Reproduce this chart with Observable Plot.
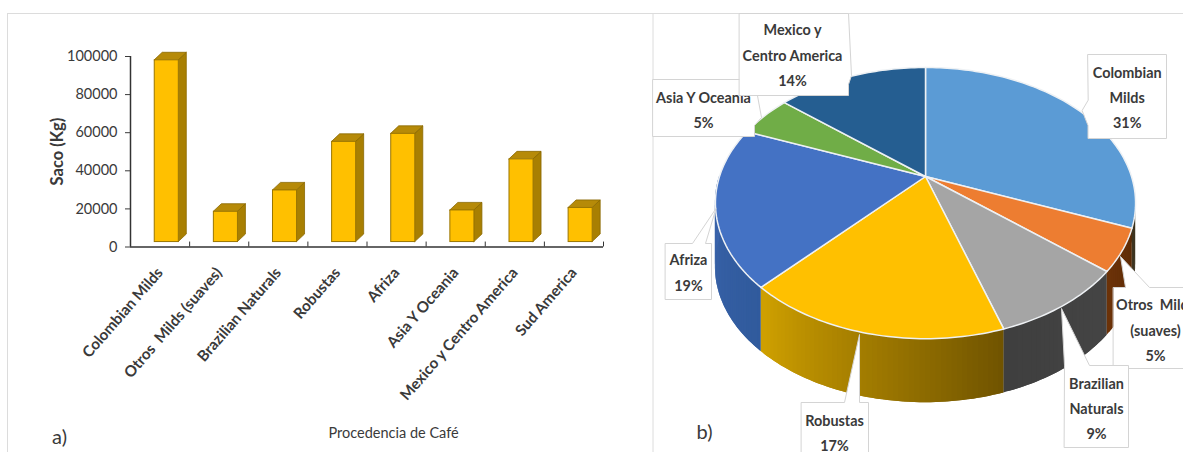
<!DOCTYPE html>
<html lang="es">
<head>
<meta charset="utf-8">
<script src="https://cdn.jsdelivr.net/npm/d3@7"></script>
<script src="https://cdn.jsdelivr.net/npm/@observablehq/plot@0.6"></script>
<style>
  html, body { margin: 0; padding: 0; background: #fff; overflow: hidden; }
  #page { position: relative; width: 1183px; height: 452px; overflow: hidden; }
  #frame { position: absolute; left: 6.5px; top: 12.5px; right: -2px; bottom: -2px;
           border-top: 1px solid #dcdcdc; border-left: 1px solid #dcdcdc; }
  #bars, #pie { position: absolute; top: 0; }
  #bars { left: 0; }
  #pie { left: 640px; }
  svg { background: transparent !important; display: block; }
</style>
</head>
<body>
<div id="page">
  <div id="frame"></div>
  <div id="bars"></div>
  <div id="pie"></div>
</div>
<script>
// Coffee output by origin: bar values in sacks
const barCategories = ["Colombian Milds", "Otros  Milds (suaves)", "Brazilian Naturals", "Robustas",
                       "Afriza", "Asia Y Oceania", "Mexico y Centro America", "Sud America"];
const barValues = [98000, 18500, 29700, 55200, 59400, 19200, 46000, 20500];
const yTicks = [0, 20000, 40000, 60000, 80000, 100000];

// Share of each origin in percent, clockwise from twelve o'clock
const pieShares = [31, 5, 9, 17, 19, 5, 14];
const pieNames = ["Colombian\nMilds", "Otros  Milds\n(suaves)", "Brazilian\nNaturals", "Robustas",
                  "Afriza", "Asia Y Oceania", "Mexico y\nCentro America"];
const pieTopColors = ["#5b9bd5", "#ed7d31", "#a5a5a5", "#ffc000", "#4472c4", "#70ad47", "#255e91"];
const pieSideLeft = ["#3d3420", "#6b3208", "#3f3f3f", "#cfa000", "#3a64ab", "#4a7a2d", "#173f63"];
const pieSideRight = ["#3d3420", "#5c2b06", "#454545", "#6e5200", "#305a9c", "#4a7a2d", "#173f63"];

const FONT = "Lato, 'Noto Sans', sans-serif";
const INK = "#3a3a3a";

// ---- Bar panel ----
const barGap = 0.41, barWidth = 0.407;          // within one category slot
const depthX = 0.135, depthY = 3950;            // oblique offset of the back face
const floorLevel = 2600;                        // the bars float a little above the axis

const bars = barValues.map((value, i) => ({
  i, value, x1: i + barGap, x2: i + barGap + barWidth
}));
const barSides = bars.flatMap(b => [
  {i: b.i, x: b.x2, y1: floorLevel, y2: b.value},
  {i: b.i, x: b.x2 + depthX, y1: floorLevel + depthY, y2: b.value + depthY}
]);
const barTops = bars.flatMap(b => [
  {i: b.i, y: b.value, x1: b.x1, x2: b.x2},
  {i: b.i, y: b.value + depthY, x1: b.x1 + depthX, x2: b.x2 + depthX}
]);

const barPlot = Plot.plot({
  width: 640, height: 452,
  marginLeft: 130, marginRight: 37, marginTop: 56, marginBottom: 205.5,
  x: {domain: [0, 8], label: null},
  y: {domain: [0, 100000], label: null},
  style: {fontFamily: FONT, color: INK},
  marks: [
    Plot.areaY(barSides, {x: "x", y1: "y1", y2: "y2", z: "i", fill: "#a87f02", stroke: "#8a6800", strokeWidth: 0.8}),
    Plot.areaX(barTops, {y: "y", x1: "x1", x2: "x2", z: "i", fill: "#b68a08", stroke: "#8a6800", strokeWidth: 0.8}),
    Plot.rect(bars, {x1: "x1", x2: "x2", y1: floorLevel, y2: "value", fill: "#ffc000", stroke: "#9a7500", strokeWidth: 1}),
    Plot.ruleX(d3.range(9), {y1: 0, y2: floorLevel, stroke: "#333", strokeWidth: 1}),
    Plot.ruleY([0], {stroke: "#333", strokeWidth: 1.5}),
    Plot.ruleX([0], {y1: 0, y2: 100000, stroke: "#333", strokeWidth: 1.5}),
    Plot.axisY({ticks: yTicks, tickSize: 5, tickPadding: 8, fontSize: 14.5, tickFormat: d => String(d), color: INK}),
    Plot.axisX({
      ticks: barCategories.map((_, i) => i + 0.5),
      tickFormat: d => barCategories[d - 0.5],
      tickSize: 0, tickPadding: 23, tickRotate: -49,
      fontSize: 15.2, fontWeight: 700, color: INK
    }),
    Plot.text([{t: "Saco (Kg)", x: -1.235, y: 50100}], {
      x: "x", y: "y", text: "t", rotate: -90, fontSize: 16.5, fontWeight: 700, fill: INK
    }),
    Plot.text([{t: "Procedencia de Café", x: 4.45, y: -98000}], {
      x: "x", y: "y", text: "t", fontSize: 14.5, fill: INK
    }),
    Plot.text([{t: "a)", x: -1.2, y: -99800}], {
      x: "x", y: "y", text: "t", fontSize: 20, fill: INK
    })
  ]
});
document.getElementById("bars").append(barPlot);

// ---- Pie panel ----
// A flat disc seen in perspective: near points spread out and the centre sits above mid-height.
const pieRadiusX = 206, pieRadiusY = 130.4, perspective = 0.196, wallHeight = 64;
const rim = fraction => {
  const a = 2 * Math.PI * fraction;
  const u = Math.sin(a), v = -Math.cos(a), d = 1 - perspective * v;
  return {x: pieRadiusX * u / d, y: pieRadiusY * v / d};
};
const cumulative = d3.cumsum(pieShares).map(s => s / d3.sum(pieShares));
const startOf = i => (i === 0 ? 0 : cumulative[i - 1]);

const sliceOutlines = pieShares.flatMap((share, i) => {
  const steps = Math.max(8, share * 3);
  const arc = d3.range(steps + 1).map(k => rim(startOf(i) + (cumulative[i] - startOf(i)) * k / steps));
  return [{x: 0, y: 0}, ...arc].map(p => ({...p, slice: i, fill: pieTopColors[i]}));
});

// The wall shows only on the near half of the rim. Each strip overlaps the next one
// so that its shading stays continuous without hairline seams.
const wallStrips = pieShares.flatMap((share, i) => {
  const from = Math.max(startOf(i), 0.25), to = Math.min(cumulative[i], 0.75);
  if (to <= from) return [];
  const steps = Math.max(4, Math.round((to - from) * 300));
  const shade = d3.interpolateRgb(pieSideLeft[i], pieSideRight[i]);
  const at = k => rim(from + (to - from) * k / steps);
  return d3.range(steps).flatMap(k => {
    const id = `${i}-${k}`;
    const tone = shade(1 - (k + 0.5) / steps);
    const lead = k === 0 ? [at(0), at(1)] : [at(k - 1), at(k), at(k + 1)];
    return lead.map(p => ({x: p.x, y1: p.y, y2: p.y + wallHeight, id, fill: tone}));
  });
});
const wallEdges = cumulative.slice(0, -1)
  .filter(f => f > 0.25 && f < 0.75)
  .map(rim)
  .map(p => ({x: p.x, y1: p.y, y2: p.y + wallHeight}));

// Callout outlines, measured from the pie centre in panel units
const calloutOutlines = [
  [[162.5,-122],[241,-122],[241,-38],[162.5,-38],[162.5,-51],[156.6,-66],[162.5,-76]],
  [[188,111],[200,111],[195,80],[224,111],[270,111],[270,192],[188,192]],
  [[139,189],[136,132],[164,189],[203,189],[203,271],[139,271]],
  [[-124,226],[-81,226],[-66,158],[-66,226],[-57,226],[-57,285],[-124,285]],
  [[-260,67],[-233,67],[-209.5,32],[-220,67],[-214,67],[-214,123],[-260,123]],
  [[-272.5,-97],[-171,-97],[-164,-59],[-171,-51],[-171,-40],[-272.5,-40]],
  [[-186,-163],[-77,-163],[-74,-101],[-77,-92],[-77,-81],[-186,-81]]
];
const calloutPoints = calloutOutlines.flatMap((outline, id) =>
  outline.map(([x, y]) => ({x, y, id})));

const calloutTextAt = [
  {x: 201.7, y: -81.5}, {x: 230, y: 151}, {x: 171, y: 229.5}, {x: -91, y: 254},
  {x: -237, y: 93.5}, {x: -222, y: -69}, {x: -133, y: -124}
];
const calloutTexts = pieNames.map((name, i) => ({
  ...calloutTextAt[i], slice: i, label: `${name}\n${pieShares[i]}%`
}));
const calloutStyle = {x: "x", y: "y", text: "label", fontSize: 14.4, fontWeight: 700, lineHeight: 1.75, fill: INK};
const outlineStyle = {x: "x", y: "y", z: "id", curve: "linear-closed", fill: "#fff", stroke: "#d4d4d4", strokeWidth: 1};

const piePlot = Plot.plot({
  width: 543, height: 452, margin: 0,
  x: {domain: [-285, 258], axis: null},
  y: {domain: [-176, 276], reverse: true, axis: null},
  color: {type: "identity"},
  style: {fontFamily: FONT, color: INK},
  marks: [
    Plot.ruleX([-272.5], {y1: -163, y2: 276, stroke: "#dcdcdc", strokeWidth: 1}),
    Plot.areaY(wallStrips, {x: "x", y1: "y1", y2: "y2", z: "id", fill: "fill"}),
    Plot.ruleX(wallEdges, {x: "x", y1: "y1", y2: "y2", stroke: "#eef1f4", strokeWidth: 1.2}),
    Plot.line(sliceOutlines, {
      x: "x", y: "y", z: "slice", fill: "fill", curve: "linear-closed",
      stroke: "#eef1f4", strokeWidth: 1.5
    }),
    Plot.line(calloutPoints.filter(d => d.id !== 6), outlineStyle),
    Plot.text(calloutTexts.filter(d => d.slice === 5), calloutStyle),
    // Mexico's box sits over the neighbouring Asia label
    Plot.line(calloutPoints.filter(d => d.id === 6), outlineStyle),
    Plot.text(calloutTexts.filter(d => d.slice !== 5), calloutStyle),
    Plot.text([{t: "b)", x: -221, y: 256}], {x: "x", y: "y", text: "t", fontSize: 20, fill: INK})
  ]
});
document.getElementById("pie").append(piePlot);
</script>
</body>
</html>
